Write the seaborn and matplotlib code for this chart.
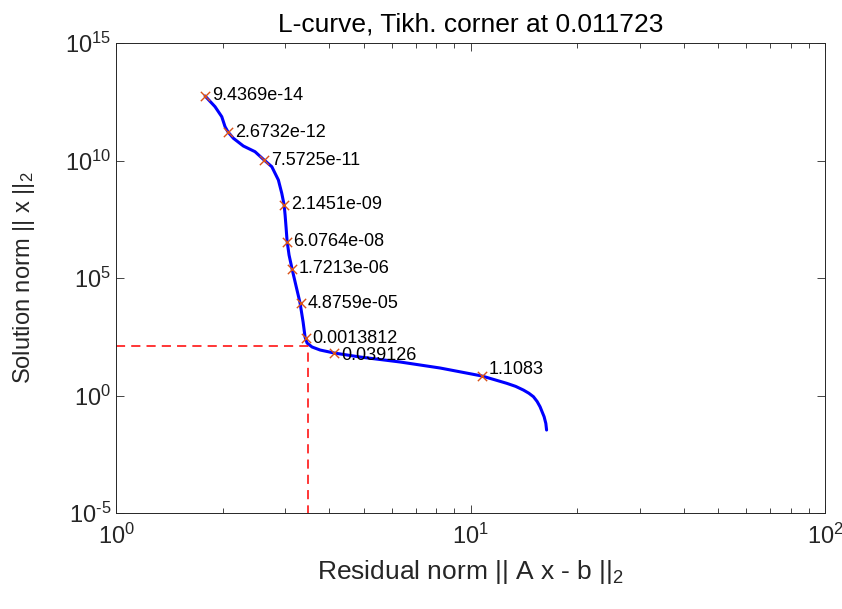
import numpy as np
import pandas as pd
from matplotlib import pyplot as plt
from matplotlib.ticker import LogLocator, NullFormatter, FixedLocator
import seaborn as sns

# L-curve (residual norm, solution norm)
curve_rho = [1.783, 1.902, 1.987, 2.030, 2.070, 2.143, 2.286, 2.466, 2.616, 2.750,
             2.870, 2.934, 2.979, 2.998, 3.018, 3.037, 3.076, 3.137,
             3.219, 3.304, 3.370, 3.413, 3.458, 3.572, 3.763, 4.121, 4.879, 6.327,
             8.204, 10.77, 12.65, 13.40, 14.09, 14.60, 15.04, 15.40, 15.70, 16.12, 16.30, 16.38]
curve_eta = [5.56e12, 1.95e12, 7.31e11, 2.74e11, 1.63e11, 8.81e10, 4.14e10, 2.37e10, 1.05e10, 5.45e9,
             1.48e9, 4.02e8, 1.28e8, 4.80e7, 1.34e7, 3.75e6, 9.53e5, 2.42e5,
             4.57e4, 8.63e3, 1.34e3, 308, 171, 116, 86.3, 64.4, 43.5, 26.7,
             14.8, 6.76, 3.30, 2.45, 1.71, 1.25, 0.889, 0.56, 0.333, 0.125, 0.065, 0.034]

# marked regularization parameters
mark_rho = [1.783, 2.070, 2.616, 2.979, 3.027, 3.137, 3.315, 3.424, 4.121, 10.77]
mark_eta = [5.56e12, 1.63e11, 1.05e10, 1.28e8, 3.57e6, 2.42e5, 8.63e3, 280, 64.4, 6.76]
mark_labels = ["9.4369e-14", "2.6732e-12", "7.5725e-11", "2.1451e-09", "6.0764e-08",
               "1.7213e-06", "4.8759e-05", "0.0013812", "0.039126", "1.1083"]

# corner
corner_rho = 3.48
corner_eta = 128.0
corner_lambda = "0.011723"

sns.set_style("ticks")
plt.rcParams["font.family"] = ["Liberation Sans", "DejaVu Sans"]
plt.rcParams["mathtext.default"] = "regular"

curve = pd.DataFrame({"rho": curve_rho, "eta": curve_eta})
marks = pd.DataFrame({"rho": mark_rho, "eta": mark_eta, "label": mark_labels})

fig = plt.figure(figsize=(8.42, 6.09), dpi=100)
ax = fig.add_axes([0.1378, 0.1576, 0.8422, 0.7718])
ax.set_xscale("log")
ax.set_yscale("log")

sns.lineplot(data=curve, x="rho", y="eta", sort=False, color="#0000ff", linewidth=2.2, ax=ax)
sns.scatterplot(data=marks, x="rho", y="eta", marker="x", color="#d95319", s=45,
                linewidth=1.0, ax=ax, zorder=3)

for r, e, lab in zip(marks["rho"], marks["eta"], marks["label"]):
    dy = 0
    if lab == "1.1083":
        dy = 5
    elif lab == "0.039126":
        dy = -2
    ax.annotate(lab, (r, e), xytext=(5, dy), textcoords="offset points",
                ha="left", va="center", fontsize=13, color="black")

# corner lines
ax.plot([0.5, corner_rho, corner_rho], [corner_eta, corner_eta, 1e-6],
        color="#ff0000", linestyle=(0, (6, 4)), linewidth=1.1, zorder=2)

ax.set_xlim(1, 100)
ax.set_ylim(1e-5, 1e15)
ax.yaxis.set_major_locator(FixedLocator([1e-5, 1, 1e5, 1e10, 1e15]))
ax.yaxis.set_minor_locator(FixedLocator([]))
ax.set_yticklabels(["$10^{\u20105}$", "$10^{0}$", "$10^{5}$", "$10^{10}$", "$10^{15}$"])
ax.xaxis.set_major_locator(FixedLocator([1, 10, 100]))
ax.set_xticklabels(["$10^{0}$", "$10^{1}$", "$10^{2}$"])
ax.xaxis.set_minor_locator(LogLocator(base=10, subs=np.arange(2, 10)))
ax.xaxis.set_minor_formatter(NullFormatter())

ax.tick_params(which="both", direction="in", top=True, right=True, colors="#262626",
               labelsize=17, width=0.6)
ax.tick_params(which="major", length=6)
ax.tick_params(which="minor", length=3.5)
ax.tick_params(axis="x", pad=8)
for s in ax.spines.values():
    s.set_visible(True)
    s.set_linewidth(0.7)
    s.set_color("#262626")

ax.set_xlabel("Residual norm || A x - b ||$_2$", fontsize=19, color="#262626")
ax.set_ylabel("Solution norm || x ||$_2$", fontsize=17, color="#262626")
ax.xaxis.set_label_coords(0.5, -0.095)
ax.yaxis.set_label_coords(-0.112, 0.5)
ax.set_title("L-curve, Tikh. corner at " + corner_lambda, fontsize=19, color="black", pad=8)

fig.savefig("out.png", dpi=100)
